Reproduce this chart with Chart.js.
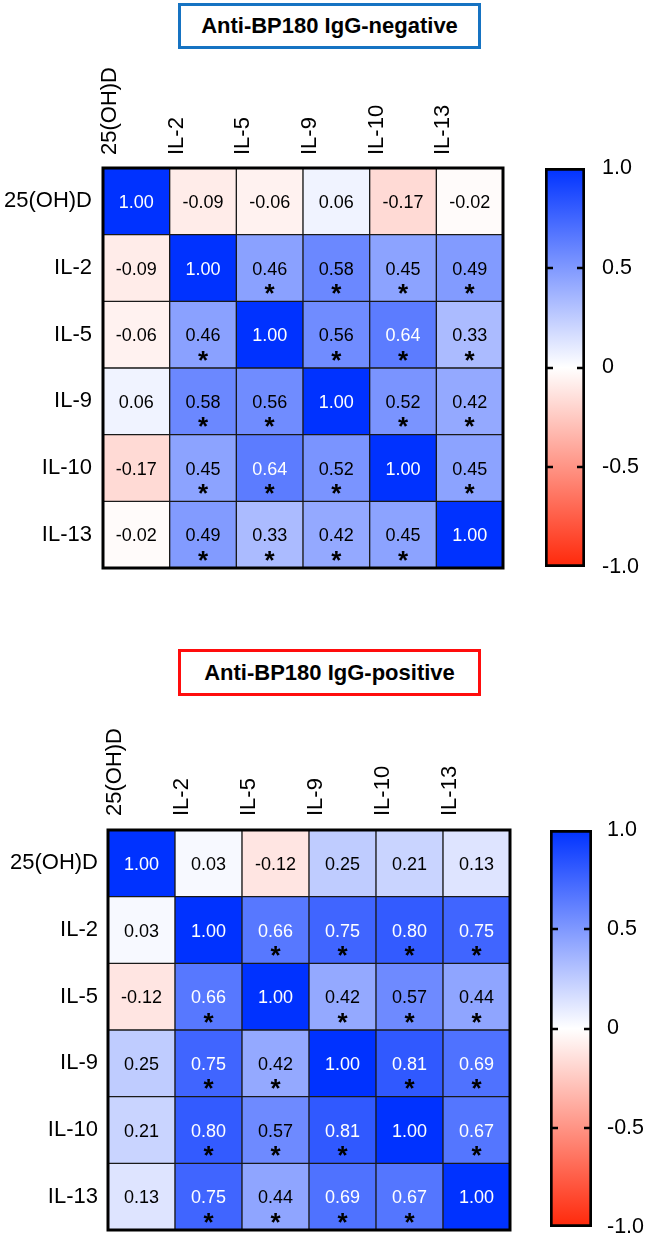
<!DOCTYPE html>
<html>
<head>
<meta charset="utf-8">
<script src="https://cdn.jsdelivr.net/npm/chart.js@4.4.0/dist/chart.umd.min.js"></script>
<style>
body { margin: 0; background: #fff; width: 645px; height: 1241px; position: relative; overflow: hidden; font-family: 'Liberation Sans', Arial, sans-serif; }
.title { position: absolute; left: 178px; width: 297px; border: 3px solid; display: flex; align-items: center; justify-content: center; font-weight: bold; font-size: 22px; color: #000; }
canvas { position: absolute; }
</style>
</head>
<body>
<div class="title" style="top:3px; height:40px; border-color:#1673c2;">Anti-BP180 IgG-negative</div>
<div class="title" style="top:649px; height:41px; border-color:#ff0d0d;">Anti-BP180 IgG-positive</div>
<canvas id="negHeat" width="530" height="520" style="left:0; top:60px;"></canvas>
<canvas id="negBar" width="115" height="440" style="left:530px; top:150px;"></canvas>
<canvas id="posHeat" width="530" height="521" style="left:0; top:720px;"></canvas>
<canvas id="posBar" width="115" height="429" style="left:530px; top:812px;"></canvas>
<script>
const varLabels = ['25(OH)D', 'IL-2', 'IL-5', 'IL-9', 'IL-10', 'IL-13'];

// Anti-BP180 IgG-negative
const negMatrix = [
    [1.00, -0.09, -0.06, 0.06, -0.17, -0.02],
    [-0.09, 1.00, 0.46, 0.58, 0.45, 0.49],
    [-0.06, 0.46, 1.00, 0.56, 0.64, 0.33],
    [0.06, 0.58, 0.56, 1.00, 0.52, 0.42],
    [-0.17, 0.45, 0.64, 0.52, 1.00, 0.45],
    [-0.02, 0.49, 0.33, 0.42, 0.45, 1.00]
];
const negSig = [
    [0, 0, 0, 0, 0, 0],
    [0, 0, 1, 1, 1, 1],
    [0, 1, 0, 1, 1, 1],
    [0, 1, 1, 0, 1, 1],
    [0, 1, 1, 1, 0, 1],
    [0, 1, 1, 1, 1, 0]
];

// Anti-BP180 IgG-positive
const posMatrix = [
    [1.00, 0.03, -0.12, 0.25, 0.21, 0.13],
    [0.03, 1.00, 0.66, 0.75, 0.80, 0.75],
    [-0.12, 0.66, 1.00, 0.42, 0.57, 0.44],
    [0.25, 0.75, 0.42, 1.00, 0.81, 0.69],
    [0.21, 0.80, 0.57, 0.81, 1.00, 0.67],
    [0.13, 0.75, 0.44, 0.69, 0.67, 1.00]
];
const posSig = [
    [0, 0, 0, 0, 0, 0],
    [0, 0, 1, 1, 1, 1],
    [0, 1, 0, 1, 1, 1],
    [0, 1, 1, 0, 1, 1],
    [0, 1, 1, 1, 0, 1],
    [0, 1, 1, 1, 1, 0]
];

const colorbarTicks = [-1, -0.5, 0, 0.5, 1];
const colorbarTickLabels = ['-1.0', '-0.5', '0', '0.5', '1.0'];

const FONT = "'Liberation Sans', Arial, sans-serif";
Chart.defaults.font.family = FONT;
Chart.defaults.color = '#000';

// blanco -> azul para positivos, blanco -> rojo para negativos
function cellColor(v) {
    if (v >= 0) {
        return `rgb(${Math.round(255 - v * 255)},${Math.round(255 - v * 205)},255)`;
    }
    const t = -v;
    return `rgb(255,${Math.round(255 - t * 215)},${Math.round(255 - t * 245)})`;
}

// las etiquetas no deben encoger el area del grafico
function noPad(s) {
    s.paddingTop = 0; s.paddingBottom = 0; s.paddingLeft = 0; s.paddingRight = 0;
}

const cellTextPlugin = {
    id: 'cellText',
    afterDatasetsDraw(chart, args, opts) {
        const ctx = chart.ctx;
        ctx.save();
        ctx.textAlign = 'center';
        ctx.textBaseline = 'alphabetic';
        chart.data.datasets.forEach((ds, di) => {
            const r = ds.rowIndex;
            chart.getDatasetMeta(di).data.forEach((bar, c) => {
                const v = opts.matrix[r][c];
                const cy = (bar.y + bar.base) / 2;
                ctx.font = `18px ${FONT}`;
                ctx.fillStyle = v >= 0.6 ? '#fff' : '#000';
                ctx.fillText(v.toFixed(2), bar.x, cy + 6.5);
                if (opts.sig[r][c]) {
                    ctx.font = `bold 26px ${FONT}`;
                    ctx.fillStyle = '#000';
                    ctx.fillText('*', bar.x, cy + 34);
                }
            });
        });
        const a = chart.chartArea;
        ctx.lineWidth = 3;
        ctx.strokeStyle = '#000';
        ctx.strokeRect(a.left, a.top, a.right - a.left, a.bottom - a.top);
        ctx.restore();
    }
};

function makeHeatmap(id, matrix, sig, dims) {
    const datasets = varLabels.map((_, r) => r).reverse().map(r => ({
        rowIndex: r,
        data: varLabels.map(() => 1),
        backgroundColor: matrix[r].map(cellColor),
        borderColor: '#1a1a1a',
        borderWidth: 1,
        borderSkipped: false,
        barPercentage: 1,
        categoryPercentage: 1
    }));
    return new Chart(document.getElementById(id), {
        type: 'bar',
        data: { labels: varLabels, datasets: datasets },
        options: {
            responsive: false,
            animation: false,
            layout: { padding: { left: 0, top: 0, right: dims.right, bottom: dims.bottom } },
            plugins: { legend: { display: false }, tooltip: { enabled: false }, cellText: { matrix, sig } },
            scales: {
                x: {
                    position: 'top', stacked: true,
                    grid: { display: false, drawTicks: false }, border: { display: false },
                    ticks: { minRotation: 90, maxRotation: 90, autoSkip: false, padding: dims.colPad, font: { size: 22 }, color: '#000' },
                    afterFit: s => { s.height = dims.top; noPad(s); }
                },
                y: { stacked: true, min: 0, max: varLabels.length, display: false },
                yRows: {
                    type: 'category', labels: varLabels, position: 'left', offset: true,
                    grid: { display: false, drawTicks: false }, border: { display: false },
                    ticks: { padding: dims.rowPad, font: { size: 22 }, color: '#000' },
                    afterFit: s => { s.width = dims.left; noPad(s); }
                }
            }
        },
        plugins: [cellTextPlugin]
    });
}

const colorbarPlugin = {
    id: 'cbTicks',
    afterDatasetsDraw(chart) {
        const ctx = chart.ctx;
        const a = chart.chartArea;
        const y = chart.scales.y;
        ctx.save();
        ctx.strokeStyle = '#000';
        ctx.lineWidth = 2.5;
        colorbarTicks.slice(1, -1).forEach(v => {
            const py = Math.round(y.getPixelForValue(v));
            ctx.beginPath();
            ctx.moveTo(a.left, py); ctx.lineTo(a.left + 8, py);
            ctx.moveTo(a.right - 8, py); ctx.lineTo(a.right, py);
            ctx.stroke();
        });
        ctx.restore();
    }
};

function makeColorbar(id, dims) {
    return new Chart(document.getElementById(id), {
        type: 'bar',
        data: {
            labels: [''],
            datasets: [{
                data: [[colorbarTicks[0], colorbarTicks[colorbarTicks.length - 1]]],
                backgroundColor: c => {
                    const ch = c.chart;
                    if (!ch.chartArea) return '#fff';
                    const y = ch.scales.y;
                    const g = ch.ctx.createLinearGradient(0, y.getPixelForValue(1), 0, y.getPixelForValue(-1));
                    g.addColorStop(0, cellColor(1));
                    g.addColorStop(0.5, cellColor(0));
                    g.addColorStop(1, cellColor(-1));
                    return g;
                },
                borderColor: '#000',
                borderWidth: 3,
                borderSkipped: false,
                barPercentage: 1,
                categoryPercentage: 1
            }]
        },
        options: {
            responsive: false,
            animation: false,
            layout: { padding: { left: dims.left, top: dims.top, right: 0, bottom: dims.bottom } },
            plugins: { legend: { display: false }, tooltip: { enabled: false } },
            scales: {
                x: { display: false },
                y: {
                    position: 'right', min: -1, max: 1,
                    grid: { display: false, drawTicks: false }, border: { display: false },
                    afterBuildTicks: s => { s.ticks = colorbarTicks.map(v => ({ value: v })); },
                    ticks: {
                        padding: dims.pad, font: { size: 21.5 }, color: '#000',
                        callback: v => colorbarTickLabels[colorbarTicks.indexOf(v)]
                    },
                    afterFit: s => { s.width = dims.axisW; noPad(s); }
                }
            }
        },
        plugins: [colorbarPlugin]
    });
}

makeHeatmap('negHeat', negMatrix, negSig, { left: 103, top: 108, right: 27, bottom: 12, rowPad: 11, colPad: 13 });
makeHeatmap('posHeat', posMatrix, posSig, { left: 108, top: 110, right: 20, bottom: 11, rowPad: 10, colPad: 14 });
makeColorbar('negBar', { left: 15, top: 18, bottom: 23, axisW: 60, pad: 17 });
makeColorbar('posBar', { left: 20, top: 18, bottom: 14, axisW: 53, pad: 15 });
</script>
</body>
</html>
